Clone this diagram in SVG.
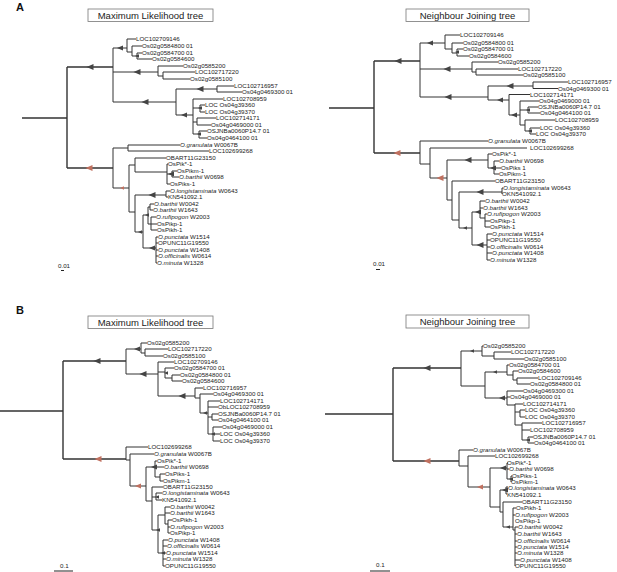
<svg xmlns="http://www.w3.org/2000/svg" xmlns:xlink="http://www.w3.org/1999/xlink" width="617" height="572" viewBox="0 0 617 572">
<style>
.br{fill:none;stroke:#333;stroke-width:1}
.rt{fill:none;stroke:#333;stroke-width:1.4}
.t{font-family:"Liberation Sans",Arial,sans-serif;font-size:6.2px;fill:#222}
.i{font-style:italic}
.ttl{font-family:"Liberation Sans",Arial,sans-serif;font-size:9.5px;fill:#222;text-anchor:middle}
.box{fill:#fff;stroke:#777;stroke-width:0.8}
.pl{font-family:"Liberation Sans",Arial,sans-serif;font-size:11px;font-weight:bold;fill:#111}
.dk{fill:#444}
.rd{fill:#c0705f}
.sc{fill:none;stroke:#222;stroke-width:1}
</style>
<defs>
<path id="ab" d="M-3.5,0L3.5,-3L3.5,3Z"/>
<path id="am" d="M-3,0L3,-2.4L3,2.4Z"/>
<path id="as" d="M-2,0L2,-1.7L2,1.7Z"/>
</defs>
<rect width="617" height="572" fill="#fff"/>

<text class="pl" x="16" y="11">A</text>
<text class="pl" x="16" y="314">B</text>

<g id="A-ML">
<rect class="box" x="88" y="9" width="125" height="12.5"/>
<text class="ttl" x="150.5" y="18.8">Maximum Likelihood tree</text>
<g id="A-ML-connectors">
<path class="rt" d="M22,118H67M67,67V168M67,67H113M67,168H113"/>
<path class="br" d="M113,48V102M113,48H127M127,39V52M127,39H136M127,52H132M132,46V56M132,46H142M132,56H137M137,53V59M137,53H142M137,59H152
M113,72H158M158,66V76M158,66H183M158,76H163M163,72V79M163,72H195M163,79H190
M113,102H176M176,89V115M176,89H217M217,86V92M217,86H234M217,92H242
M176,115H193M193,99V134M193,99H223M193,108H200M200,105V112M200,105H205M200,112H205M193,122H197M197,118V125M197,118H216M197,125H211M193,134H199M199,131V138M199,131H207M199,138H207
M113,148V188M113,148H128M128,145V151M128,145H180M128,151H209
M113,188H129M129,165V212M129,165H135M135,158V172M135,158H166M135,172H167M167,164V184M167,164H168M167,174H172M172,171V177M172,171H177M172,177H179M167,184H170
M129,212H135M135,195V232M135,195H166M166,191V197M166,191H170M166,197H168
M135,232H143M143,215V248M143,215H148M148,207V224M148,207H150M150,204V210M150,204H154M150,210H153M148,224H151M151,217V230M151,217H156M151,224H157M151,230H157
M143,248H156M156,237V263M156,237H158M156,243H158M156,250H158M156,256H158M156,263H157"/>
<use href="#ab" x="90" y="67" class="dk"/>
<use href="#am" x="120" y="48" class="dk"/>
<use href="#ab" x="137" y="72" class="dk"/>
<use href="#ab" x="145" y="102" class="dk"/>
<use href="#ab" x="200" y="89" class="dk"/>
<use href="#am" x="184" y="115" class="dk"/>
<use href="#as" x="137" y="56" class="dk"/>
<use href="#as" x="200" y="108" class="dk"/>
<use href="#as" x="199" y="134" class="dk"/>
<use href="#ab" x="152" y="195" class="dk"/>
<use href="#am" x="171" y="174" class="dk"/>
<use href="#as" x="147" y="215" class="dk"/>
<use href="#am" x="152" y="248" class="dk"/>
<use href="#as" x="140" y="232" class="dk"/>
<use href="#ab" x="89" y="168" class="rd"/>
<use href="#as" x="122" y="188" class="rd"/>
</g>
<g id="A-ML-leaves" class="t">
<text x="136" y="41.2">LOC102709146</text>
<text x="142" y="48.2">Os02g0584800 01</text>
<text x="142" y="55.2">Os02g0584700 01</text>
<text x="152" y="61.2">Os02g0584600</text>
<text x="183" y="68.2">Os02g0585200</text>
<text x="195" y="74.2">LOC102717220</text>
<text x="190" y="81.2">Os02g0585100</text>
<text x="234" y="88.2">LOC102716957</text>
<text x="242" y="94.2">Os04g0469300 01</text>
<text x="223" y="101.2">LOC102708959</text>
<text x="205" y="107.2">LOC Os04g39360</text>
<text x="205" y="114.2">LOC Os04g39370</text>
<text x="216" y="120.2">LOC102714171</text>
<text x="211" y="127.2">Os04g0469000 01</text>
<text x="207" y="133.2">OSJNBa0060P14.7 01</text>
<text x="207" y="140.2">Os04g0464100 01</text>
<text x="180" y="147.2"><tspan class="i">O.granulata</tspan> W0067B</text>
<text x="209" y="153.2">LOC102699268</text>
<text x="166" y="160.2">OBART11G23150</text>
<text x="168" y="166.2">OsPik*-1</text>
<text x="177" y="173.2">OsPikm-1</text>
<text x="179" y="179.2"><tspan class="i">O.barthii</tspan> W0698</text>
<text x="170" y="186.2">OsPiks-1</text>
<text x="170" y="193.2"><tspan class="i">O.longistaminata</tspan> W0643</text>
<text x="168" y="199.2">KN541092.1</text>
<text x="154" y="206.2"><tspan class="i">O.barthii</tspan> W0042</text>
<text x="153" y="212.2"><tspan class="i">O.barthii</tspan> W1643</text>
<text x="156" y="219.2"><tspan class="i">O.rufipogon</tspan> W2003</text>
<text x="157" y="226.2">OsPikp-1</text>
<text x="157" y="232.2">OsPikh-1</text>
<text x="158" y="239.2"><tspan class="i">O.punctata</tspan> W1514</text>
<text x="158" y="245.2">OPUNC11G19550</text>
<text x="158" y="252.2"><tspan class="i">O.punctata</tspan> W1408</text>
<text x="158" y="258.2"><tspan class="i">O.officinalis</tspan> W0614</text>
<text x="157" y="265.2"><tspan class="i">O.minuta</tspan> W1328</text>
</g>
<text class="t" x="58" y="268">0.01</text>
<path class="sc" d="M61,270.5H64"/>
</g>

<g id="A-NJ">
<rect class="box" x="406" y="9" width="123" height="12.5"/>
<text class="ttl" x="467.5" y="18.8">Neighbour Joining tree</text>
<g id="A-NJ-connectors">
<path class="rt" d="M329,108H374M374,61V153M374,61H420M374,153H420"/>
<path class="br" d="M420,43V97M420,43H445M445,35V49M445,35H460M445,49H452M452,43V53M452,43H463M452,53H457M457,49V56M457,49H463M457,56H469
M420,69H472M472,62V72M472,62H498M472,72H476M476,69V75M476,69H518M476,75H523
M420,97H488M488,86V100M488,86H533M533,82V88.5M533,82H568M533,88.5H558
M488,100H509M509,94.5V115M509,94.5H530M509,115H520M520,101V125M520,101H539M520,110H528M528,107V113M528,107H538M528,113H540M520,125H525M525,120V131M525,120H555M525,131H530M530,128V134M530,128H540M530,134H536
M420,141V164M420,141H488M420,164H430M430,148V178M430,148H527M430,178H447
M447,160V200M447,160H488M488,154V168M488,154H492M488,168H494M494,161V174M494,161H499M494,168H501M494,174H499
M447,200H452M452,181V220M452,181H495M452,220H459
M459,192V228M459,192H502M502,188V194M502,188H503
M459,228H472M472,212V245M472,212H480M480,201V218M480,201H485M480,208H483M480,218H485M485,214V227M485,214H487M485,221H490M485,227H490
M472,245H487M487,234V260M487,234H492M487,240H490M487,247H490M487,253H492M487,260H490"/>
<use href="#ab" x="398" y="61" class="dk"/>
<use href="#am" x="430" y="43" class="dk"/>
<use href="#ab" x="447" y="69" class="dk"/>
<use href="#ab" x="448" y="97" class="dk"/>
<use href="#ab" x="510" y="86" class="dk"/>
<use href="#am" x="500" y="100" class="dk"/>
<use href="#as" x="457" y="52" class="dk"/>
<use href="#am" x="514" y="115" class="dk"/>
<use href="#as" x="528" y="110" class="dk"/>
<use href="#as" x="530" y="131" class="dk"/>
<use href="#ab" x="468" y="160" class="dk"/>
<use href="#am" x="493" y="168" class="dk"/>
<use href="#ab" x="480" y="192" class="dk"/>
<use href="#as" x="465" y="228" class="dk"/>
<use href="#am" x="478" y="212" class="dk"/>
<use href="#ab" x="480" y="245" class="dk"/>
<use href="#ab" x="397" y="153" class="rd"/>
<use href="#ab" x="440" y="178" class="rd"/>
</g>
<g id="A-NJ-leaves" class="t">
<text x="460" y="37.2">LOC102709146</text>
<text x="463" y="45.2">Os02g0584800 01</text>
<text x="463" y="51.2">Os02g0584700 01</text>
<text x="469" y="58.2">Os02g0584600</text>
<text x="498" y="64.2">Os02g0585200</text>
<text x="518" y="71.2">LOC102717220</text>
<text x="523" y="77.2">Os02g0585100</text>
<text x="568" y="84.2">LOC102716957</text>
<text x="558" y="90.5">Os04g0469300 01</text>
<text x="530" y="96.7">LOC102714171</text>
<text x="539" y="103.2">Os04g0469000 01</text>
<text x="538" y="109.4">OSJNBa0060P14.7 01</text>
<text x="540" y="115.4">Os04g0464100 01</text>
<text x="555" y="122.2">LOC102708959</text>
<text x="540" y="130.2">LOC Os04g39360</text>
<text x="536" y="136.2">LOC Os04g39370</text>
<text x="488" y="143.2"><tspan class="i">O.granulata</tspan> W0067B</text>
<text x="530" y="150.2">LOC102699268</text>
<text x="492" y="156.2">OsPik*-1</text>
<text x="499" y="163.2"><tspan class="i">O.barthii</tspan> W0698</text>
<text x="501" y="170.2">OsPiks 1</text>
<text x="499" y="176.2">OsPikm-1</text>
<text x="495" y="183.2">OBART11G23150</text>
<text x="503" y="190.2"><tspan class="i">O.longistaminata</tspan> W0643</text>
<text x="502" y="196.2">OKN541092.1</text>
<text x="485" y="203.2"><tspan class="i">O.barthii</tspan> W0042</text>
<text x="483" y="210.2"><tspan class="i">O.barthii</tspan> W1643</text>
<text x="487" y="216.2"><tspan class="i">O.rufipogon</tspan> W2003</text>
<text x="490" y="223.2">OsPikp-1</text>
<text x="490" y="229.2">OsPikh-1</text>
<text x="492" y="236.2"><tspan class="i">O.punctata</tspan> W1514</text>
<text x="490" y="242.2">OPUNC11G19550</text>
<text x="490" y="249.2"><tspan class="i">O.officinalis</tspan> W0614</text>
<text x="492" y="255.2"><tspan class="i">O.punctata</tspan> W1408</text>
<text x="490" y="262.2"><tspan class="i">O.minuta</tspan> W1328</text>
</g>
<text class="t" x="373" y="266">0.01</text>
<path class="sc" d="M376,269.5H380"/>
</g>

<g id="B-ML">
<rect class="box" x="88" y="316" width="125" height="12.5"/>
<text class="ttl" x="150.5" y="325.8">Maximum Likelihood tree</text>
<g id="B-ML-connectors">
<path class="rt" d="M0,411H63M63,361V459M63,361H126M63,459H126"/>
<path class="br" d="M126,349V374M126,349H141M141,343V353M141,343H147M141,353H145M145,349V356M145,349H168M145,356H163
M126,374H158M158,362V396M158,362H174M158,372H165M165,368V378M165,368H174M165,378H172M172,375V381M172,375H180M172,381H182
M158,396H195M195,388V398M195,388H203M195,398H200M200,394V413M200,394H213M200,413H208M208,401V434M208,401H220M208,407H218M208,417H212M212,414V420M212,414H218M212,420H218M208,434H213M213,427V441M213,427H222M213,434H220M213,441H220
M126,447V460M126,447H148M126,460H130M130,454V486M130,454H154M130,486H146
M146,467V501M146,467H155M155,461V477M155,461H157M155,467H164M155,477H160M160,474V481M160,474H165M160,481H163
M146,501H152M152,487V530M152,487H163M152,497H156M156,493V500M156,493H162M156,500H162
M152,530H158M158,515V553M158,515H165M165,507V524M165,507H170M165,513H170M165,524H168M168,520V533M168,520H172M168,527H170M168,533H170
M158,553H163M163,540V566M163,540H168M163,546H167M163,553H166M163,559H166M163,566H165"/>
<use href="#ab" x="97" y="361" class="dk"/>
<use href="#am" x="137" y="349" class="dk"/>
<use href="#ab" x="143" y="374" class="dk"/>
<use href="#as" x="166" y="373" class="dk"/>
<use href="#ab" x="182" y="396" class="dk"/>
<use href="#as" x="205" y="413" class="dk"/>
<use href="#as" x="213" y="434" class="dk"/>
<use href="#am" x="154" y="467" class="dk"/>
<use href="#as" x="157" y="497" class="dk"/>
<use href="#as" x="158" y="530" class="dk"/>
<use href="#as" x="163" y="553" class="dk"/>
<use href="#ab" x="98" y="459" class="rd"/>
<use href="#am" x="138" y="486" class="rd"/>
</g>
<g id="B-ML-leaves" class="t">
<text x="147" y="345.2">Os02g0585200</text>
<text x="168" y="351.2">LOC102717220</text>
<text x="163" y="358.2">Os02g0585100</text>
<text x="174" y="364.2">LOC102709146</text>
<text x="174" y="370.2">Os02g0584700 01</text>
<text x="180" y="377.2">Os02g0584800 01</text>
<text x="182" y="383.2">Os02g0584600</text>
<text x="203" y="390.2">LOC102716957</text>
<text x="213" y="396.2">Os04g0469300 01</text>
<text x="220" y="403.2">LOC102714171</text>
<text x="218" y="409.2">ObLOC102708959</text>
<text x="218" y="416.2">OSJNBa0060P14.7 01</text>
<text x="218" y="422.2">Os04g0464100 01</text>
<text x="222" y="429.2">Os04g0469000 01</text>
<text x="220" y="436.2">LOC Os04g39360</text>
<text x="220" y="443.2">LOC Os04g39370</text>
<text x="148" y="449">LOC102699268</text>
<text x="154" y="456.2"><tspan class="i">O.granulata</tspan> W0067B</text>
<text x="157" y="463.2">OsPik*-1</text>
<text x="164" y="469.2"><tspan class="i">O.barthii</tspan> W0698</text>
<text x="165" y="476.2">OsPiks-1</text>
<text x="163" y="483.2">OsPikm-1</text>
<text x="163" y="489.2">OBART11G23150</text>
<text x="162" y="495.2"><tspan class="i">O.longistaminata</tspan> W0643</text>
<text x="162" y="502.2">KN541092.1</text>
<text x="170" y="509.2"><tspan class="i">O.barthii</tspan> W0042</text>
<text x="170" y="515.2"><tspan class="i">O.barthii</tspan> W1643</text>
<text x="172" y="522.2">OsPikh-1</text>
<text x="170" y="529.2"><tspan class="i">O.rufipogon</tspan> W2003</text>
<text x="170" y="535.2">OsPikp-1</text>
<text x="168" y="542.2"><tspan class="i">O.punctata</tspan> W1408</text>
<text x="167" y="548.2"><tspan class="i">O.officinalis</tspan> W0614</text>
<text x="166" y="555.2"><tspan class="i">O.punctata</tspan> W1514</text>
<text x="166" y="561.2"><tspan class="i">O.minuta</tspan> W1328</text>
<text x="165" y="568.2">OPUNC11G19550</text>
</g>
<text class="t" x="60" y="568">0.1</text>
<path class="sc" d="M54,571H73"/>
</g>

<g id="B-NJ">
<rect class="box" x="406" y="315" width="123" height="13"/>
<text class="ttl" x="467.5" y="325">Neighbour Joining tree</text>
<g id="B-NJ-connectors">
<path class="rt" d="M325,414H393M393,368V461M393,368H461M393,461H459"/>
<path class="br" d="M461,351V386M461,351H482M482,346V356M482,346H483M482,356H494M494,352V359M494,352H511M494,359H524
M461,386H485M485,372V398M485,372H507M507,365V375M507,365H509M507,375H513M513,371V380M513,371H518M513,380H517M517,378V384M517,378H538M517,384H530
M485,398H507M507,391V405M507,391H523M507,397H510M507,405H515M515,404V425M515,404H523M515,412H520M520,410V417M520,410H525M520,417H525M515,425H522M522,423V440M522,423H542M522,430H530M522,440H528M528,437V443M528,437H533M528,443H534
M459,450V466M459,450H473M459,466H468M468,456V487M468,456H495M468,487H490
M490,468V507M490,468H507M507,463V479M507,463H508M507,469H509M507,479H511M511,476V482M511,476H512
M490,507H500M500,490V512M500,490H506M506,487V494M506,487H508M506,494H507
M500,512H503M503,502V527M503,502H522M503,527H513M513,508V530M513,508H516M513,515H515M513,530H515M515,527V566M515,527H518M515,534H517M515,541H517M515,547H517M515,553H517M515,560H520"/>
<use href="#ab" x="427" y="368" class="dk"/>
<use href="#as" x="472" y="351" class="dk"/>
<use href="#as" x="495" y="372" class="dk"/>
<use href="#am" x="502" y="398" class="dk"/>
<use href="#as" x="528" y="440" class="dk"/>
<use href="#am" x="503" y="468" class="dk"/>
<use href="#as" x="511" y="479" class="dk"/>
<use href="#am" x="505" y="490" class="dk"/>
<use href="#as" x="508" y="527" class="dk"/>
<use href="#ab" x="427" y="461" class="rd"/>
<use href="#am" x="480" y="487" class="rd"/>
</g>
<g id="B-NJ-leaves" class="t">
<text x="483" y="348.2">Os02g0585200</text>
<text x="511" y="354.2">LOC102717220</text>
<text x="524" y="361.2">Os02g0585100</text>
<text x="509" y="367.2">Os02g0584700 01</text>
<text x="518" y="373.2">Os02g0584600</text>
<text x="538" y="380.2">LOC102709146</text>
<text x="530" y="386.2">Os02g0584800 01</text>
<text x="523" y="393.2">Os04g0469300 01</text>
<text x="510" y="399.2">Os04g0469000 01</text>
<text x="523" y="406.2">LOC102714171</text>
<text x="525" y="412.2">LOC Os04g39360</text>
<text x="525" y="419.2">LOC Os04g39370</text>
<text x="542" y="425.2">LOC102716957</text>
<text x="530" y="432.2">LOC102708959</text>
<text x="533" y="439.2">OSJNBa0060P14.7 01</text>
<text x="534" y="445.2">Os04g0464100 01</text>
<text x="473" y="452.2"><tspan class="i">O.granulata</tspan> W0067B</text>
<text x="495" y="458">LOC102699268</text>
<text x="507" y="465.2">OsPik*-1</text>
<text x="509" y="471.4"><tspan class="i">O.barthii</tspan> W0698</text>
<text x="512" y="478.2">OsPiks-1</text>
<text x="511" y="484.2">OsPikm-1</text>
<text x="508" y="490.2"><tspan class="i">O.longistaminata</tspan> W0643</text>
<text x="507" y="497.2">KN541092.1</text>
<text x="522" y="504.2">OBART11G23150</text>
<text x="516" y="510.2">OsPikh-1</text>
<text x="515" y="517.2"><tspan class="i">O.rufipogon</tspan> W2003</text>
<text x="515" y="523.2">OsPikp-1</text>
<text x="518" y="529.2"><tspan class="i">O.barthii</tspan> W0042</text>
<text x="517" y="536.2"><tspan class="i">O.barthii</tspan> W1643</text>
<text x="517" y="543.2"><tspan class="i">O.officinalis</tspan> W0614</text>
<text x="517" y="549.2"><tspan class="i">O.punctata</tspan> W1514</text>
<text x="517" y="555.2"><tspan class="i">O.minuta</tspan> W1328</text>
<text x="520" y="562.2"><tspan class="i">O.punctata</tspan> W1408</text>
<text x="515" y="568.2">OPUNC11G19550</text>
</g>
<text class="t" x="376" y="567">0.1</text>
<path class="sc" d="M370,571H390"/>
</g>
</svg>
